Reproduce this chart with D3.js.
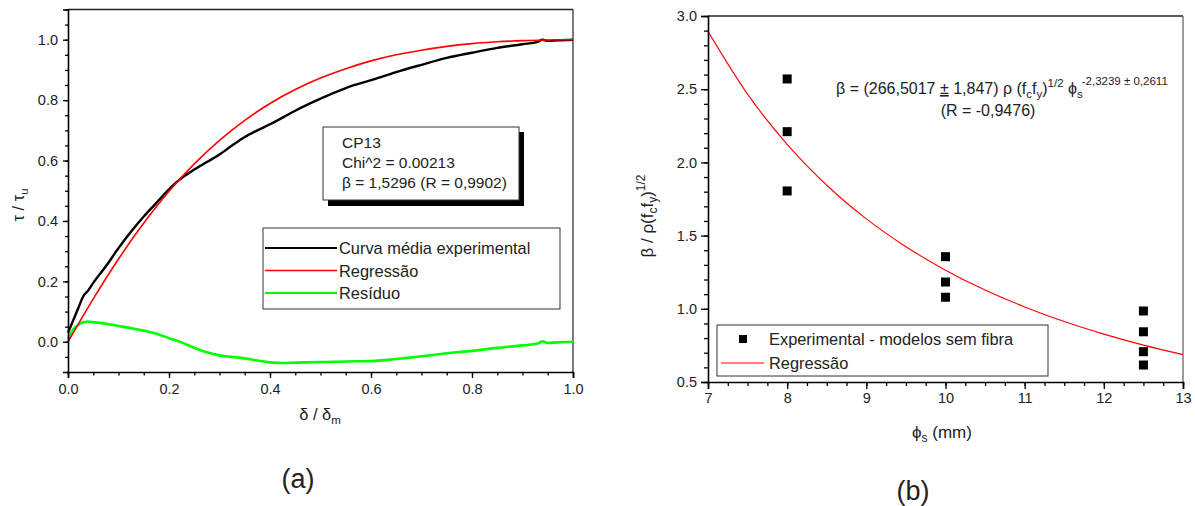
<!DOCTYPE html>
<html><head><meta charset="utf-8">
<script src="https://cdn.jsdelivr.net/npm/d3@7"></script>
<style>
html,body{margin:0;padding:0;background:#fff;}
svg text{font-family:"Liberation Sans",Arial,sans-serif;fill:#222;}
</style></head>
<body>
<svg id="c" width="1195" height="506"></svg>
<script>
// ---------- Panel (a) data ----------
const expX = [0,0.01,0.02,0.03,0.04,0.05,0.075,0.1,0.125,0.15,0.175,0.2,0.225,0.25,0.275,0.3,0.325,0.35,0.375,0.4,0.425,0.45,0.5,0.55,0.6,0.65,0.7,0.75,0.8,0.85,0.9,0.93,0.94,0.95,0.97,1.0];
const expY = [0.03,0.07,0.11,0.15,0.17,0.195,0.25,0.31,0.365,0.415,0.46,0.505,0.542,0.57,0.595,0.62,0.65,0.678,0.70,0.72,0.742,0.765,0.805,0.84,0.866,0.893,0.917,0.94,0.957,0.973,0.985,0.993,1.0,0.996,0.998,1.0];
const regX = [0,0.025,0.05,0.1,0.15,0.2,0.25,0.3,0.35,0.4,0.45,0.5,0.55,0.6,0.65,0.7,0.75,0.8,0.85,0.9,0.95,1.0];
const regY = [0,0.072,0.142,0.274,0.393,0.498,0.589,0.667,0.733,0.789,0.835,0.873,0.904,0.930,0.950,0.965,0.978,0.987,0.993,0.997,0.999,1.0];
const resX = [0,0.01,0.02,0.03,0.04,0.05,0.075,0.1,0.125,0.15,0.175,0.2,0.225,0.25,0.275,0.3,0.325,0.35,0.375,0.4,0.425,0.45,0.5,0.55,0.6,0.65,0.7,0.75,0.8,0.85,0.9,0.93,0.94,0.95,0.97,1.0];
const resY = [0.01,0.04,0.055,0.065,0.067,0.065,0.06,0.052,0.045,0.037,0.027,0.012,-0.002,-0.02,-0.035,-0.045,-0.05,-0.055,-0.062,-0.068,-0.07,-0.069,-0.067,-0.065,-0.064,-0.057,-0.048,-0.038,-0.03,-0.02,-0.012,-0.006,0.002,-0.004,-0.002,0.0];
const aXTicks = [0,0.2,0.4,0.6,0.8,1.0];
const aYTicks = [0,0.2,0.4,0.6,0.8,1.0];
const aLegend = ["Curva média experimental","Regressão","Resíduo"];
const aColors = ["#000000","#ff0000","#00ff00"];
const aNote = ["CP13","Chi^2 = 0.00213","β = 1,5296 (R = 0,9902)"];

// ---------- Panel (b) data ----------
const ptX = [8,8,8,10,10,10,12.5,12.5,12.5,12.5];
const ptY = [2.57,2.21,1.805,1.356,1.183,1.079,0.985,0.843,0.707,0.616];
const fitX = [7,7.5,8,8.5,9,9.5,10,10.5,11,11.5,12,12.5,13];
const fitY = [2.895,2.466,2.123,1.844,1.614,1.424,1.264,1.128,1.013,0.913,0.827,0.752,0.687];
const bXTicks = [7,8,9,10,11,12,13];
const bYTicks = [0.5,1.0,1.5,2.0,2.5,3.0];
const bLegend = ["Experimental - modelos sem fibra","Regressão"];

const svg = d3.select("#c");

function frame(g, x, y, color){
  const [x0,x1]=x.range(), [y0,y1]=y.range();
  g.append("line").attr("x1",x0).attr("x2",x1).attr("y1",y1).attr("y2",y1).attr("stroke","#222").attr("stroke-width",1.3);
  g.append("line").attr("x1",x1).attr("x2",x1).attr("y1",y0).attr("y2",y1).attr("stroke",color).attr("stroke-width",1.3);
}
function styleAxis(sel, fs){
  sel.select(".domain").attr("stroke","#000").attr("stroke-width",1.6);
  sel.selectAll(".tick line").attr("stroke","#000").attr("stroke-width",1.3);
  sel.selectAll(".tick text").attr("font-size",fs).attr("fill","#222").attr("font-family",'"Liberation Sans",Arial,sans-serif');
}
function minor(sel){ sel.select(".domain").remove(); sel.selectAll("line").attr("stroke","#000").attr("stroke-width",1.3); }

// ================= Panel (a) =================
const xA = d3.scaleLinear().domain([0,1]).range([68,573]);
const yA = d3.scaleLinear().domain([-0.1,1.1]).range([372,9.5]);
const gA = svg.append("g");
frame(gA, xA, yA, "#333");

const lineA = d3.line().x(d=>xA(d[0])).y(d=>yA(d[1])).curve(d3.curveMonotoneX);
gA.append("path").datum(resX.map((v,i)=>[v,resY[i]])).attr("d",lineA)
  .attr("fill","none").attr("stroke",aColors[2]).attr("stroke-width",2.6);
gA.append("path").datum(expX.map((v,i)=>[v,expY[i]])).attr("d",lineA)
  .attr("fill","none").attr("stroke",aColors[0]).attr("stroke-width",2.4);
gA.append("path").datum(regX.map((v,i)=>[v,regY[i]])).attr("d",lineA)
  .attr("fill","none").attr("stroke",aColors[1]).attr("stroke-width",1.6);

gA.append("g").attr("transform","translate(0,372)").call(d3.axisBottom(xA).tickValues(d3.range(0,1.0001,0.05)).tickSize(3.5).tickFormat("")).call(minor);
gA.append("g").attr("transform","translate(68,0)").call(d3.axisLeft(yA).tickValues(d3.range(-0.1,1.1001,0.05)).tickSize(3).tickFormat("")).call(minor);
gA.append("g").attr("transform","translate(0,372)").call(d3.axisBottom(xA).tickValues(aXTicks).tickSize(6).tickPadding(6).tickFormat(d3.format(".1f")))
  .call(s=>styleAxis(s,14.5));
gA.append("g").attr("transform","translate(68,0)").call(d3.axisLeft(yA).tickValues(aYTicks).tickSize(5).tickPadding(5).tickFormat(d3.format(".1f")))
  .call(s=>styleAxis(s,14.5));

const yLabA = gA.append("text").attr("transform","translate(24,205) rotate(-90)").attr("text-anchor","middle").attr("font-size",16.5);
yLabA.append("tspan").text("τ / τ");
yLabA.append("tspan").text("u").attr("font-size",11.5).attr("dy",4);
const xLabA = gA.append("text").attr("x",320).attr("y",420).attr("text-anchor","middle").attr("font-size",16.5);
xLabA.append("tspan").text("δ / δ");
xLabA.append("tspan").text("m").attr("font-size",11.5).attr("dy",4);
gA.append("text").attr("x",298).attr("y",488).attr("text-anchor","middle").attr("font-size",27).text("(a)");

// annotation box
gA.append("rect").attr("x",328).attr("y",132).attr("width",196).attr("height",74).attr("fill","#000");
gA.append("rect").attr("x",323).attr("y",127).attr("width",196).attr("height",73).attr("fill","#fff").attr("stroke","#333").attr("stroke-width",1);
aNote.forEach((t,i)=>gA.append("text").attr("x",342).attr("y",148+i*20).attr("font-size",15.5).text(t));

// legend
const legA = gA.append("g");
legA.append("rect").attr("x",263).attr("y",228).attr("width",297).attr("height",81).attr("fill","#fff").attr("stroke","#333").attr("stroke-width",1);
aLegend.forEach((t,i)=>{
  const yy = 248 + i*22.5;
  legA.append("line").attr("x1",265).attr("x2",337).attr("y1",yy).attr("y2",yy).attr("stroke",aColors[i]).attr("stroke-width",i==1?1.6:2.2);
  legA.append("text").attr("x",339).attr("y",yy+6).attr("font-size",16.4).text(t);
});

// ================= Panel (b) =================
const xB = d3.scaleLinear().domain([7,13]).range([708,1183]);
const yB = d3.scaleLinear().domain([0.5,3.0]).range([382,16]);
const gB = svg.append("g");
frame(gB, xB, yB, "#666");

gB.append("path").datum(fitX.map((v,i)=>[v,fitY[i]]))
  .attr("d",d3.line().x(d=>xB(d[0])).y(d=>yB(d[1])).curve(d3.curveMonotoneX))
  .attr("fill","none").attr("stroke","#ff0000").attr("stroke-width",1.1);

gB.selectAll("rect.pt").data(ptX.map((v,i)=>[v,ptY[i]])).enter().append("rect").attr("class","pt")
  .attr("x",d=>xB(d[0])-4.5).attr("y",d=>yB(d[1])-4.5).attr("width",9).attr("height",9).attr("fill","#000");

gB.append("g").attr("transform","translate(0,382)").call(d3.axisBottom(xB).tickValues(d3.range(7,13.001,0.25)).tickSize(4).tickFormat("")).call(minor);
gB.append("g").attr("transform","translate(708,0)").call(d3.axisLeft(yB).tickValues(d3.range(0.5,3.0001,0.1)).tickSize(4).tickFormat("")).call(minor);
gB.append("g").attr("transform","translate(0,382)").call(d3.axisBottom(xB).tickValues(bXTicks).tickSize(7).tickPadding(4).tickFormat(d3.format("d")))
  .call(s=>styleAxis(s,14.5));
gB.append("g").attr("transform","translate(708,0)").call(d3.axisLeft(yB).tickValues(bYTicks).tickSize(7).tickPadding(4).tickFormat(d3.format(".1f")))
  .call(s=>styleAxis(s,14.5));

const yLabB = gB.append("text").attr("transform","translate(653,216) rotate(-90)").attr("text-anchor","middle").attr("font-size",17);
yLabB.append("tspan").text("β / ρ(f");
yLabB.append("tspan").text("c").attr("font-size",12).attr("dy",4);
yLabB.append("tspan").text("f").attr("dy",-4);
yLabB.append("tspan").text("y").attr("font-size",12).attr("dy",4);
yLabB.append("tspan").text(")").attr("dy",-4);
yLabB.append("tspan").text("1/2").attr("font-size",12).attr("dy",-8);
const xLabB = gB.append("text").attr("x",942).attr("y",438).attr("text-anchor","middle").attr("font-size",17);
xLabB.append("tspan").text("ϕ");
xLabB.append("tspan").text("s").attr("font-size",12).attr("dy",4);
xLabB.append("tspan").text(" (mm)").attr("dy",-4);
gB.append("text").attr("x",913).attr("y",500).attr("text-anchor","middle").attr("font-size",27).text("(b)");

// formula
const f1 = gB.append("text").attr("x",836).attr("y",94).attr("font-size",16);
f1.append("tspan").text("β = (266,5017 ");
f1.append("tspan").text("±").attr("text-decoration","underline");
f1.append("tspan").text(" 1,847) ρ (f");
f1.append("tspan").text("c").attr("font-size",11.5).attr("dy",4);
f1.append("tspan").text("f").attr("font-size",16).attr("dy",-4);
f1.append("tspan").text("y").attr("font-size",11.5).attr("dy",4);
f1.append("tspan").text(")").attr("font-size",16).attr("dy",-4);
f1.append("tspan").text("1/2").attr("font-size",11.5).attr("dy",-7);
f1.append("tspan").text(" ϕ").attr("font-size",16).attr("dy",7);
f1.append("tspan").text("s").attr("font-size",11.5).attr("dy",4);
f1.append("tspan").text("-2,3239 ± 0,2611").attr("font-size",11.5).attr("dy",-13).attr("dx",-1);
gB.append("text").attr("x",988).attr("y",116).attr("text-anchor","middle").attr("font-size",16).text("(R = -0,9476)");

// legend (b)
const legB = gB.append("g");
legB.append("rect").attr("x",717).attr("y",325).attr("width",331).attr("height",51).attr("fill","#fff").attr("stroke","#333").attr("stroke-width",1);
legB.append("rect").attr("x",739).attr("y",335).attr("width",8).attr("height",8).attr("fill","#000");
legB.append("text").attr("x",769).attr("y",345).attr("font-size",16.4).text(bLegend[0]);
legB.append("line").attr("x1",721).attr("x2",764).attr("y1",363).attr("y2",363).attr("stroke","#ff0000").attr("stroke-width",1.1);
legB.append("text").attr("x",769).attr("y",369).attr("font-size",16.4).text(bLegend[1]);
</script>
</body></html>
